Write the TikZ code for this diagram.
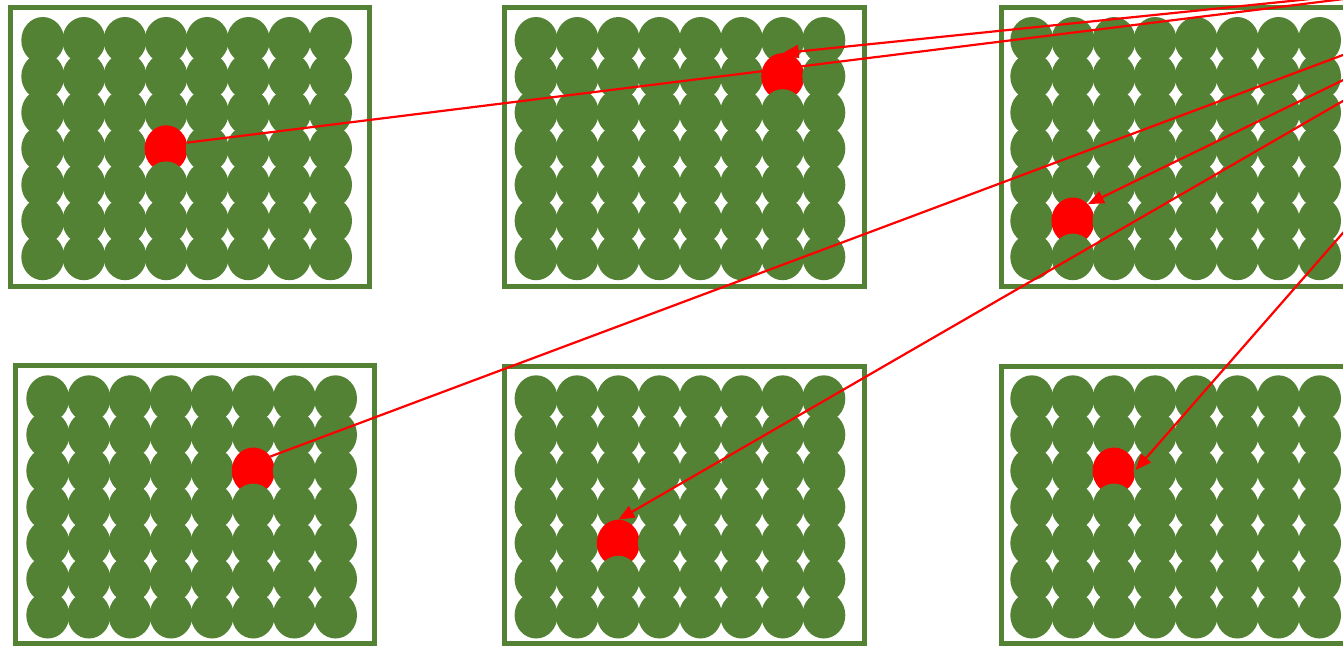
\documentclass[tikz,border=0pt]{standalone}
\usetikzlibrary{shapes.geometric,arrows.meta}
\definecolor{leaf}{HTML}{548235}
\definecolor{hot}{HTML}{FF0000}
\tikzset{
  panel/.style={draw=leaf,line width=5pt},
  cell/.style={fill=leaf},
  redcell/.style={ellipse,fill=hot,draw=none,minimum width=43pt,minimum height=46.6pt,inner sep=0pt,outer sep=0pt},
  link/.style={draw=hot,line width=2.2pt},
  arrowlink/.style={link,-{Triangle[length=16pt,width=13pt]}},
}
% #1,#2: centre of first cell; #3,#4: column,row of red cell (0-based); #5: its name
\newcommand\drawpanel[5]{%
  \foreach \r in {0,...,6}{%
    \foreach \c in {0,...,7}{%
      \pgfmathsetmacro\px{#1+\c*41.1}%
      \pgfmathsetmacro\py{#2+\r*36.1}%
      \ifnum\r=#4\relax
        \ifnum\c=#3\relax
          \node[redcell] (#5) at (\px,\py) {};
        \else
          \fill[cell] (\px,\py) ellipse [x radius=21.5pt,y radius=23.3pt];
        \fi
      \else
        \fill[cell] (\px,\py) ellipse [x radius=21.5pt,y radius=23.3pt];
      \fi
    }%
  }%
}
\begin{document}
\begin{tikzpicture}[x=1pt,y=-1pt]
\useasboundingbox (0,0) rectangle (1343,646);
\clip (0,0) rectangle (1343,646);
% panel frames
\draw[panel] (10.8,7.5) rectangle (369.5,286.3);
\draw[panel] (504.5,7.5) rectangle (864.2,286.5);
\draw[panel] (1001.7,7.5) rectangle (1365,286.5);
\draw[panel] (15.3,365.8) rectangle (374.2,643);
\draw[panel] (504.5,366) rectangle (864.2,643);
\draw[panel] (1001.7,366) rectangle (1365,643);
% cell grids
\drawpanel{42.8}{40.3}{3}{3}{r1}
\drawpanel{536.1}{40.3}{6}{1}{r2}
\drawpanel{1031.8}{40.3}{1}{5}{r3}
\drawpanel{47.8}{398.6}{5}{2}{r4}
\drawpanel{536.1}{398.6}{2}{4}{r5}
\drawpanel{1031.8}{398.6}{2}{2}{r6}
% sources outside the frame
\coordinate (sA) at (1363,-3.4);
\coordinate (sB) at (1320,-2);
\coordinate (sC) at (1363,47.5);
\coordinate (sD) at (1363,70.4);
\coordinate (sE) at (1363,89.4);
\coordinate (sF) at (1363,210);
% connectors
\draw[link] (sA) -- (r1.16);
\draw[arrowlink] (sB) -- (r2.north);
\draw[link] (sC) -- (r4.40);
\draw[arrowlink] (sD) -- (r3.48);
\draw[arrowlink] (sE) -- (r5.north);
\draw[arrowlink] (sF) -- (r6.2);
\end{tikzpicture}
\end{document}
